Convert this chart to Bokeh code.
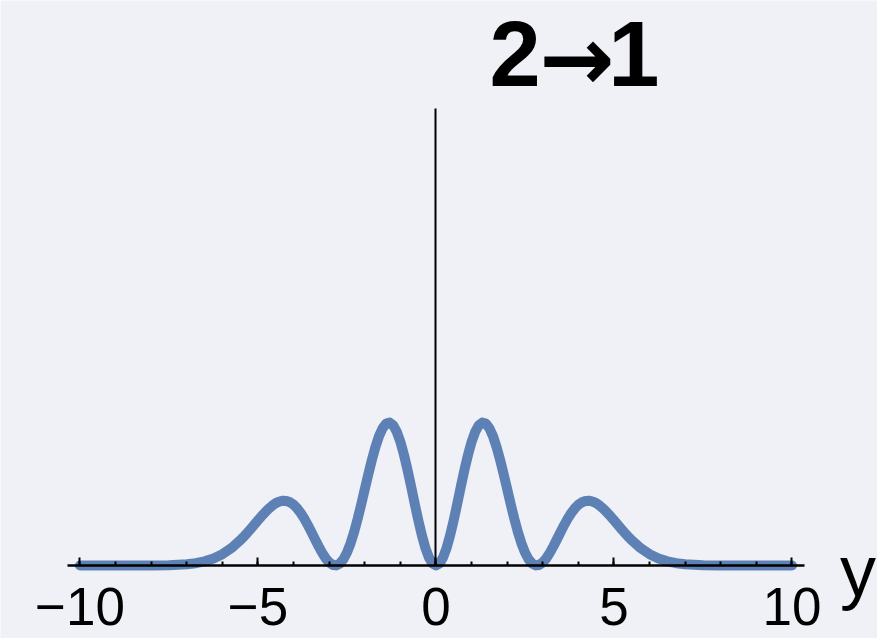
from bokeh.plotting import figure
from bokeh.models import LinearAxis, FixedTicker, Range1d
from bokeh.core.properties import value
from bokeh.embed import file_html
from bokeh.resources import INLINE

# ---- data ----
x_right = [0.0, 0.1, 0.2, 0.3, 0.4, 0.5, 0.6, 0.7, 0.8, 0.9,
           1.0, 1.1, 1.2, 1.3, 1.4, 1.5, 1.6, 1.7, 1.8, 1.9,
           2.0, 2.1, 2.2, 2.3, 2.4, 2.5, 2.6, 2.7, 2.8, 2.9,
           3.0, 3.1, 3.2, 3.3, 3.4, 3.5, 3.6, 3.7, 3.8, 3.9,
           4.0, 4.1, 4.2, 4.3, 4.4, 4.5, 4.6, 4.7, 4.8, 4.9,
           5.0, 5.1, 5.2, 5.3, 5.4, 5.5, 5.75, 6.0, 6.25, 6.5,
           6.75, 7.0, 7.5, 8.0, 9.0, 10.0]
y_right = [0.0, 0.0144, 0.0568, 0.1247, 0.2140, 0.3195, 0.4350, 0.5538, 0.6691, 0.7746,
           0.8643, 0.9337, 0.9793, 0.9990, 0.9921, 0.9601, 0.9048, 0.8300, 0.7397, 0.6390,
           0.5334, 0.4275, 0.3265, 0.2345, 0.1551, 0.0909, 0.0434, 0.0135, 0.0006, 0.0039,
           0.0215, 0.0511, 0.0900, 0.1354, 0.1844, 0.2344, 0.2828, 0.3276, 0.3669, 0.3996,
           0.4249, 0.4421, 0.4513, 0.4529, 0.4474, 0.4360, 0.4185, 0.3969, 0.3720, 0.3446,
           0.3157, 0.2865, 0.2574, 0.2288, 0.2017, 0.1760, 0.121, 0.079, 0.049, 0.029,
           0.016, 0.009, 0.0023, 0.0005, 0.0, 0.0]
x_left = [-10.0, -9.0, -8.0, -7.5, -7.0, -6.75, -6.5, -6.25, -6.0, -5.75,
          -5.5, -5.4, -5.3, -5.2, -5.1, -5.0, -4.9, -4.8, -4.7, -4.6,
          -4.5, -4.4, -4.3, -4.2, -4.1, -4.0, -3.9, -3.8, -3.7, -3.6,
          -3.5, -3.4, -3.3, -3.2, -3.1, -3.0, -2.9, -2.8, -2.7, -2.6,
          -2.5, -2.4, -2.3, -2.2, -2.1, -2.0, -1.9, -1.8, -1.7, -1.6,
          -1.5, -1.4, -1.3, -1.2, -1.1, -1.0, -0.9, -0.8, -0.7, -0.6,
          -0.5, -0.4, -0.3, -0.2, -0.1]
y_left = [0.0, 0.0, 0.0005, 0.0023, 0.009, 0.016, 0.029, 0.049, 0.079, 0.121,
          0.1760, 0.2017, 0.2288, 0.2574, 0.2865, 0.3157, 0.3446, 0.3720, 0.3969, 0.4185,
          0.4360, 0.4474, 0.4529, 0.4513, 0.4421, 0.4249, 0.3996, 0.3669, 0.3276, 0.2828,
          0.2344, 0.1844, 0.1354, 0.0900, 0.0511, 0.0215, 0.0039, 0.0006, 0.0135, 0.0434,
          0.0909, 0.1551, 0.2345, 0.3265, 0.4275, 0.5334, 0.6390, 0.7397, 0.8300, 0.9048,
          0.9601, 0.9921, 0.9990, 0.9793, 0.9337, 0.8643, 0.7746, 0.6691, 0.5538, 0.4350,
          0.3195, 0.2140, 0.1247, 0.0568, 0.0144]

curve_x = x_left + x_right
curve_y = y_left + y_right

major_ticks = [-10, -5, 0, 5, 10]
minor_ticks = list(range(-10, 11))
tick_labels = ["\u221210", "\u22125", "0", "5", "10"]
title_parts = ["2", "\u2192", "1"]
axis_label = "y"

BG = "#eff1f6"
BLUE = "#5e81b5"

p = figure(width=877, height=638, output_backend="svg", toolbar_location=None,
           x_axis_location=None, y_axis_location=None, min_border=0,
           x_range=Range1d(-12.233, 12.402), y_range=Range1d(-0.5105, 3.951))
p.background_fill_color = BG
p.border_fill_color = BG
p.outline_line_color = None
p.grid.visible = False

# x axis at y = 0
xa = LinearAxis(fixed_location=0, bounds=(-10.35, 10.35),
                ticker=FixedTicker(ticks=major_ticks, minor_ticks=minor_ticks),
                major_label_overrides={t: l for t, l in zip(major_ticks, tick_labels)})
xa.axis_line_color = "black"
xa.axis_line_width = 2.5
xa.major_tick_in = 8
xa.major_tick_out = 0
xa.minor_tick_in = 4
xa.minor_tick_out = 0
xa.major_tick_line_width = 2
xa.minor_tick_line_width = 2
xa.major_tick_line_color = "black"
xa.minor_tick_line_color = "black"
xa.major_label_text_font = "Liberation Sans"
xa.major_label_text_font_size = "53px"
xa.major_label_text_color = "black"
xa.major_label_standoff = 23
p.add_layout(xa, "below")

# vertical axis at x = 0
ya = LinearAxis(fixed_location=0, bounds=(0, 3.196), ticker=FixedTicker(ticks=[]))
ya.axis_line_color = "black"
ya.axis_line_width = 2
ya.major_tick_in = 0
ya.major_tick_out = 0
ya.minor_tick_in = 0
ya.minor_tick_out = 0
ya.major_label_text_font_size = "0px"
p.add_layout(ya, "left")

p.line(curve_x, curve_y, line_color=BLUE, line_width=10, line_join="round", line_cap="round")

p.text(x=[11.35], y=[-0.035], text=[axis_label], text_font=value("Liberation Sans"),
       text_font_size="72px", text_color="black", text_align="left",
       text_baseline="alphabetic")

# title "2→1"
p.text(x=[1.503], y=[3.58], text=[title_parts[0]], text_font=value("Liberation Sans"),
       text_font_size="92px", text_font_style="bold", text_color="black",
       text_align="left", text_baseline="alphabetic")
p.text(x=[3.96], y=[3.545], text=[title_parts[1]], text_font=value("DejaVu Sans"),
       text_font_size="90px", text_font_style="bold", text_color="black",
       text_align="center", text_baseline="alphabetic")
p.text(x=[4.84], y=[3.58], text=[title_parts[2]], text_font=value("Liberation Sans"),
       text_font_size="92px", text_font_style="bold", text_color="black",
       text_align="left", text_baseline="alphabetic")

open("out.html", "w").write(file_html(p, INLINE))
